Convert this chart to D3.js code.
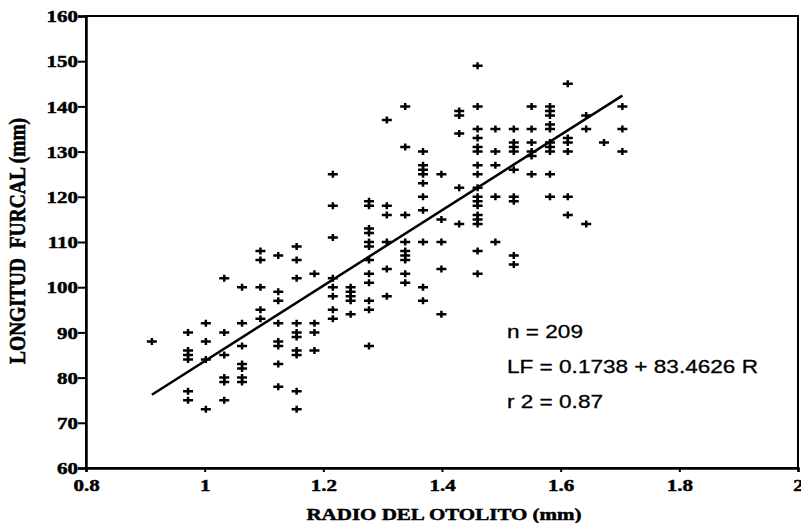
<!DOCTYPE html>
<html lang="es">
<head>
<meta charset="UTF-8">
<title>Longitud furcal vs radio del otolito</title>
<script src="https://d3js.org/d3.v7.min.js"></script>
<style>
  body { margin: 0; background: #fff; }
</style>
</head>
<body>
<svg id="chart" width="801" height="523"></svg>
<script>
const radios = [0.911, 0.941, 0.972, 1.002, 1.033, 1.063, 1.094, 1.124, 1.155,
  1.185, 1.216, 1.246, 1.277, 1.307, 1.338, 1.368, 1.399, 1.429, 1.460, 1.490,
  1.521, 1.551, 1.582, 1.612, 1.643, 1.673, 1.704];

// fork lengths (mm) found in each column, same order as radios
const longitudes = [
  [88],
  [],
  [90, 86, 85, 84, 77, 75],
  [92, 88, 84, 73],
  [102, 90, 85, 80, 79, 75],
  [100, 92, 87, 83, 82, 80, 79],
  [108, 106, 100, 95, 93],
  [107, 99, 97, 92, 88, 87, 83, 78],
  [109, 106, 102, 92, 90, 89, 86, 85, 77, 73],
  [103, 92, 90, 86],
  [125, 118, 111, 102, 100, 98, 95, 93],
  [100, 99, 98, 97, 94],
  [119, 118, 113, 112, 110, 109, 106, 103, 101, 97, 95, 87],
  [137, 118, 116, 110, 104, 98],
  [140, 131, 116, 110, 108, 107, 106, 103, 101],
  [130, 127, 126, 125, 123, 120, 117, 110, 100, 97],
  [125, 115, 110, 104, 94],
  [139, 138, 134, 122, 114],
  [149, 140, 135, 133, 131, 130, 127, 125, 122, 120, 119, 118, 116, 115, 114, 108, 103],
  [135, 130, 127, 120, 110],
  [135, 132, 131, 130, 126, 120, 119, 107, 105],
  [140, 135, 132, 130, 129, 125],
  [140, 139, 138, 136, 135, 132, 131, 130, 125, 120],
  [145, 133, 132, 130, 120, 116],
  [138, 135, 114],
  [132],
  [140, 135, 130]
];

// fitted line LF = a + b R
const intercepto = 0.1738;
const pendiente = 83.4626;
const rangoRecta = [0.911, 1.704];

const xTicks = [0.8, 1, 1.2, 1.4, 1.6, 1.8, 2];
const yTicks = [60, 70, 80, 90, 100, 110, 120, 130, 140, 150, 160];
const statLines = ["n = 209", "LF = 0.1738 + 83.4626 R", "r 2 = 0.87"];

const serif = '"Liberation Serif", "Times New Roman", serif';
const sans = '"Liberation Sans", Arial, sans-serif';
const widen = 1.2; // the scan is stretched sideways

const points = [];
radios.forEach((r, i) => longitudes[i].forEach(lf => points.push({ r: r, lf: lf })));

const svg = d3.select("#chart");
const x = d3.scaleLinear().domain([0.8, 2]).range([86, 798]);
const y = d3.scaleLinear().domain([60, 160]).range([468, 16]);

function stretch(sel, k) {
  sel.each(function() {
    const w = this.getComputedTextLength();
    d3.select(this).attr("textLength", w * k).attr("lengthAdjust", "spacingAndGlyphs");
  });
}

// heavy scanned-print look: bold serif with a thin outline
function serifLabels(sel, size) {
  sel.style("font-family", serif).style("font-weight", "bold")
    .style("font-size", size + "px").attr("fill", "#000")
    .attr("stroke", "#000").attr("stroke-width", 0.5);
}

// frame
svg.append("rect")
  .attr("x", x(0.8)).attr("y", y(160))
  .attr("width", x(2) - x(0.8)).attr("height", y(60) - y(160))
  .attr("fill", "none").attr("stroke", "#000").attr("stroke-width", 2);

// left axis
const yAxis = svg.append("g")
  .attr("transform", `translate(${x(0.8)},0)`)
  .call(d3.axisLeft(y).tickValues(yTicks).tickSize(8).tickPadding(0).tickFormat(d3.format("d")));
yAxis.select(".domain").attr("stroke-width", 2.5);
yAxis.selectAll(".tick line").attr("stroke-width", 2);
yAxis.selectAll(".tick text").call(serifLabels, 17.5).attr("dy", "0.33em").call(stretch, widen);

// bottom axis
const xAxis = svg.append("g")
  .attr("transform", `translate(0,${y(60)})`)
  .call(d3.axisBottom(x).tickValues(xTicks).tickSize(4).tickPadding(7)
    .tickFormat(d => String(+d.toFixed(1))));
xAxis.select(".domain").attr("stroke-width", 2.5);
xAxis.selectAll(".tick line").attr("stroke-width", 2);
xAxis.selectAll(".tick text").call(serifLabels, 17.5).call(stretch, widen);

// regression line
const fit = rangoRecta.map(r => ({ r: r, lf: intercepto + pendiente * r }));
svg.append("path")
  .datum(fit)
  .attr("d", d3.line().x(d => x(d.r)).y(d => y(d.lf)))
  .attr("fill", "none").attr("stroke", "#000").attr("stroke-width", 2.5);

// plus markers
svg.append("g").selectAll("path")
  .data(points)
  .join("path")
  .attr("transform", d => `translate(${x(d.r)},${y(d.lf)})`)
  .attr("d", "M-5,0H5M0,-3.5V3.5")
  .attr("stroke", "#000").attr("stroke-width", 2.5).attr("fill", "none");

// statistics
svg.append("g").selectAll("text")
  .data(statLines)
  .join("text")
  .attr("x", 507)
  .attr("y", (d, i) => 338 + i * 35)
  .style("font-family", sans).style("font-size", "18.5px")
  .attr("stroke", "#000").attr("stroke-width", 0.3)
  .text(d => d)
  .call(stretch, 1.22);

// axis titles
svg.append("text")
  .attr("x", 444).attr("y", 520)
  .attr("text-anchor", "middle")
  .text("RADIO DEL OTOLITO (mm)")
  .call(serifLabels, 17.5)
  .call(stretch, widen);

svg.append("text")
  .attr("transform", `translate(25,241) scale(${widen},1) rotate(-90)`)
  .attr("text-anchor", "middle")
  .attr("xml:space", "preserve")
  .text("LONGITUD  FURCAL (mm)")
  .call(serifLabels, 19.5);
</script>
</body>
</html>
